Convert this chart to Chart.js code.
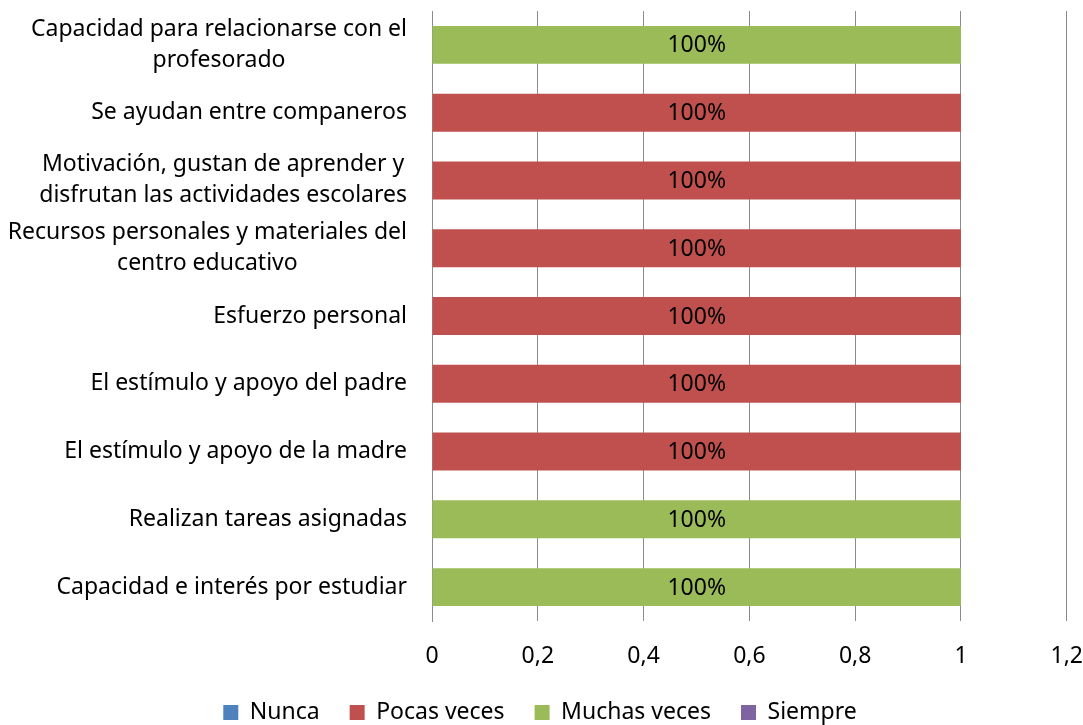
<!DOCTYPE html>
<html>
<head>
<meta charset="utf-8">
<script src="https://cdn.jsdelivr.net/npm/chart.js@4/dist/chart.umd.min.js"></script>
<style>
    html, body { margin: 0; padding: 0; background: #fff; overflow: hidden; }
    #wrap { width: 1083px; height: 734px; }
</style>
</head>
<body>
<div id="wrap"><canvas id="chart"></canvas></div>
<script>
// categories, top to bottom (multi-line labels as arrays)
const categories = [
    ['Capacidad para relacionarse con el', 'profesorado'],
    ['Se ayudan entre companeros'],
    ['Motivación, gustan de aprender y', 'disfrutan las actividades escolares'],
    ['Recursos personales y materiales del', 'centro educativo'],
    ['Esfuerzo personal'],
    ['El estímulo y apoyo del padre'],
    ['El estímulo y apoyo de la madre'],
    ['Realizan tareas asignadas'],
    ['Capacidad e interés por estudiar']
];
const seriesNames = ['Nunca', 'Pocas veces', 'Muchas veces', 'Siempre'];
const nunca       = [0, 0, 0, 0, 0, 0, 0, 0, 0];
const pocasVeces  = [0, 1, 1, 1, 1, 1, 1, 0, 0];
const muchasVeces = [1, 0, 0, 0, 0, 0, 0, 1, 1];
const siempre     = [0, 0, 0, 0, 0, 0, 0, 0, 0];
const xTicks = [0, 0.2, 0.4, 0.6, 0.8, 1, 1.2];

const colors = ['#4F81BD', '#C0504D', '#9BBB59', '#8064A2'];
const FONT = 'Noto Sans';
const SIZE = 23;

// category labels drawn centred like Excel does it
const categoryLabels = {
    id: 'categoryLabels',
    afterDraw(chart) {
        const ctx = chart.ctx;
        const yScale = chart.scales.y;
        const right = 407;
        ctx.save();
        ctx.font = SIZE + 'px "' + FONT + '"';
        ctx.fillStyle = '#000';
        ctx.textAlign = 'center';
        ctx.textBaseline = 'middle';
        categories.forEach((lines, i) => {
            const y = yScale.getPixelForTick(i);
            const w = Math.max(...lines.map(l => ctx.measureText(l).width));
            const cx = right - w / 2;
            const lh = 31;
            lines.forEach((l, j) => {
                ctx.fillText(l, cx, y + (j - (lines.length - 1) / 2) * lh);
            });
        });
        ctx.restore();
    }
};

// "100%" in the middle of each bar
const valueLabels = {
    id: 'valueLabels',
    afterDatasetsDraw(chart) {
        const ctx = chart.ctx;
        ctx.save();
        ctx.font = SIZE + 'px "' + FONT + '"';
        ctx.fillStyle = '#000';
        ctx.textAlign = 'center';
        ctx.textBaseline = 'middle';
        chart.data.datasets.forEach((ds, di) => {
            chart.getDatasetMeta(di).data.forEach((bar, i) => {
                const v = ds.data[i];
                if (!v) return;
                const total = chart.data.datasets.reduce((s, d) => s + d.data[i], 0);
                const pct = Math.round(v / total * 100) + '%';
                ctx.fillText(pct, (bar.x + bar.base) / 2, bar.y + 1);
            });
        });
        ctx.restore();
    }
};

const ctx = document.getElementById('chart');
new Chart(ctx, {
    type: 'bar',
    data: {
        labels: categories,
        datasets: [nunca, pocasVeces, muchasVeces, siempre].map((d, i) => ({
            label: seriesNames[i],
            data: d,
            backgroundColor: colors[i],
            borderWidth: 0,
            categoryPercentage: 0.56,
            barPercentage: 1
        }))
    },
    options: {
        indexAxis: 'y',
        responsive: true,
        maintainAspectRatio: false,
        animation: false,
        layout: { padding: { top: 11, left: 0, right: 3, bottom: 0 } },
        scales: {
            x: {
                stacked: true,
                min: 0,
                max: 1.2,
                afterBuildTicks: scale => { scale.ticks = xTicks.map(v => ({ value: v })); },
                afterFit: scale => { scale.height = 50; },
                grid: { color: '#8c8c8c', lineWidth: 1, drawTicks: true, tickLength: 22, tickColor: 'rgba(0,0,0,0)' },
                border: { display: false },
                ticks: {
                    padding: 0,
                    color: '#000',
                    font: { family: FONT, size: SIZE },
                    callback: v => String(Math.round(v * 10) / 10).replace('.', ',')
                }
            },
            y: {
                stacked: true,
                grid: { display: false },
                border: { display: true, color: '#8c8c8c' },
                ticks: { display: false },
                afterFit: scale => { scale.width = 432; }
            }
        },
        plugins: {
            legend: {
                position: 'bottom',
                labels: {
                    boxWidth: 15,
                    boxHeight: 15,
                    padding: 30,
                    color: '#000',
                    font: { family: FONT, size: SIZE }
                }
            },
            tooltip: { enabled: false }
        }
    },
    plugins: [categoryLabels, valueLabels]
});
</script>
</body>
</html>
